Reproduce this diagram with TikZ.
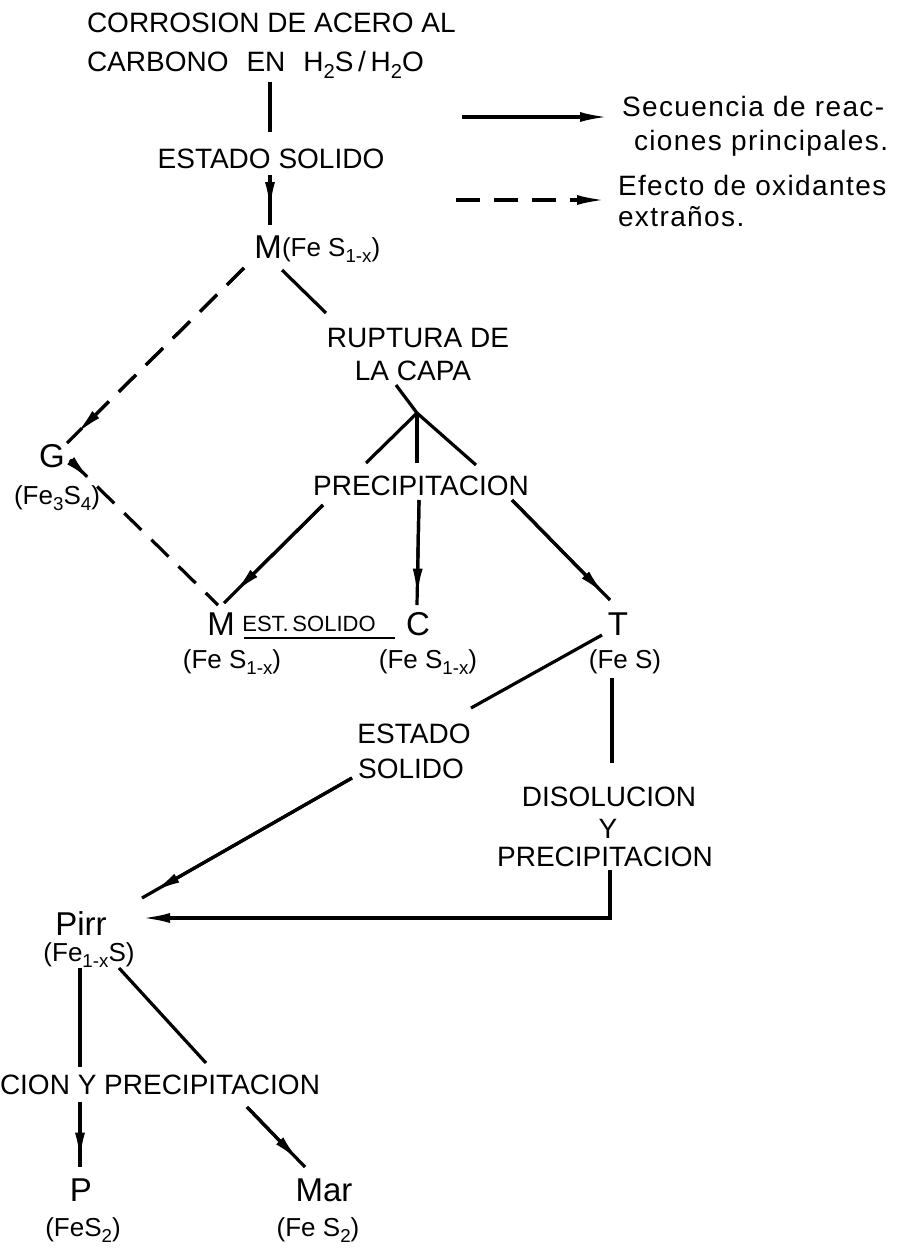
\documentclass[tikz,border=0pt]{standalone}
\usepackage{fontspec}
\setmainfont{Liberation Sans}
\usepackage{graphicx}
\usetikzlibrary{arrows.meta,calc}
\newcommand\dn[1]{\raisebox{-0.5ex}{\scalebox{0.72}{#1}}}
\newcommand\fA{\fontsize{28}{34}\selectfont}
\newcommand\fB{\fontsize{33}{38}\selectfont}
\newcommand\fC{\fontsize{26}{30}\selectfont}
\newcommand\fD{\fontsize{28}{34}\selectfont\addfontfeature{LetterSpace=5}}
\newcommand\fE{\fontsize{22}{26}\selectfont}
\newcommand\arrconn[4]{\draw[#1] (#2) -- (#3); \draw[#1,tip] (#2) -- ($(#2)!#4!(#3)$);}
\begin{document}
\begin{tikzpicture}[x=1pt,y=-1pt,
  every node/.style={inner sep=0pt,outer sep=0pt},
  lbl/.style={font=\fA},
  big/.style={font=\fB},
  frm/.style={font=\fC},
  leg/.style={font=\fD},
  ln/.style={line width=3.2pt},
  dsh/.style={ln,dash pattern=on 24pt off 14pt},
  tip/.style={-{Latex[length=28pt,width=10pt]}}]
\useasboundingbox[fill=white] (0,0) rectangle (904,1251);

% text nodes
\node[lbl,anchor=base west] (t1) at (87,32) {CORROSION DE ACERO AL};
\node[lbl,anchor=base west] (t2) at (87,71) {CARBONO\hspace{18pt}EN\hspace{18pt}H\dn{2}S\,/\,H\dn{2}O};
\node[lbl,anchor=base] (es1) at (271,168) {ESTADO SOLIDO};
\node[big,anchor=base] (m1) at (268,258) {M};
\node[frm,anchor=base west] (f1) at (282,256) {(Fe S\dn{1-x})};

\node[leg,anchor=base west] (leg1) at (622,116) {Secuencia de reac-};
\node[leg,anchor=base west] (leg1b) at (634,150) {ciones principales.};
\node[leg,anchor=base west] (leg2) at (618,195) {Efecto de oxidantes};
\node[leg,anchor=base west] (leg2b) at (618,226) {extraños.};

\node[lbl,anchor=base] (rup1) at (418,347) {RUPTURA DE};
\node[lbl,anchor=base] (rup2) at (413,380) {LA CAPA};
\node[lbl,anchor=base] (prec) at (421,495) {PRECIPITACION};

\node[big,anchor=base] (g) at (52,467) {G};
\node[frm,anchor=base] (fg) at (57,504) {(Fe\dn{3}S\dn{4})};

\node[big,anchor=base] (m2) at (221,635) {M};
\node[big,anchor=base] (c) at (418,635) {C};
\node[big,anchor=base] (tt) at (618,635) {T};
\node[font=\fE,anchor=base] (est) at (309,631) {EST.\,SOLIDO};
\node[frm,anchor=base] (f2) at (232,668) {(Fe S\dn{1-x})};
\node[frm,anchor=base] (f3) at (428,668) {(Fe S\dn{1-x})};
\node[frm,anchor=base] (f4) at (625,668) {(Fe S)};

\node[lbl,anchor=base] (es2a) at (414,743) {ESTADO};
\node[lbl,anchor=base] (es2b) at (411,778) {SOLIDO};
\node[lbl,anchor=base] (disa) at (609,806) {DISOLUCION};
\node[lbl,anchor=base] (disb) at (608,838) {Y};
\node[lbl,anchor=base] (disc) at (605,866) {PRECIPITACION};

\node[big,anchor=base] (pirr) at (81,935) {Pirr};
\node[frm,anchor=base] (f5) at (89,961) {(Fe\dn{1-x}S)};
\node[lbl,anchor=base west] (cion) at (0,1094) {CION Y PRECIPITACION};
\node[big,anchor=base] (p) at (81,1201) {P};
\node[big,anchor=base] (mar) at (324,1201) {Mar};
\node[frm,anchor=base] (f6) at (83,1236) {(FeS\dn{2})};
\node[frm,anchor=base] (f7) at (318,1236) {(Fe S\dn{2})};

% connector end points (relative to nodes)
\coordinate (a1) at ($(t2.base west)+(183,11)$);
\coordinate (a2) at ($(es1.base)+(-1,-36)$);
\coordinate (b1) at ($(es1.base)+(-1,7)$);
\coordinate (b2) at ($(m1.base)+(2,-33)$);
\coordinate (lg1s) at (462,117);
\coordinate (lg1e) at ($(leg1.base west)+(-14,1)$);
\coordinate (lg2s) at (456,200);
\coordinate (lg2e) at ($(leg2.base west)+(-13,5)$);
\coordinate (d1) at ($(m1.base)+(-24,10)$);
\coordinate (d2) at ($(g.base)+(15,-24)$);
\coordinate (r1) at ($(m1.base)+(14,12)$);
\coordinate (r2) at ($(rup1.base)+(-92,-34)$);
\coordinate (jn) at ($(rup2.base)+(4,33)$);
\coordinate (j0) at ($(rup2.base)+(-17,5)$);
\coordinate (pl) at ($(prec.base)+(-55,-32)$);
\coordinate (pc) at ($(prec.base)+(-4,-32)$);
\coordinate (pr) at ($(prec.base)+(55,-30)$);
\coordinate (q1) at ($(prec.base)+(-98,10)$);
\coordinate (q2) at ($(m2.base)+(3,-32)$);
\coordinate (q3) at ($(prec.base)+(-2,5)$);
\coordinate (q4) at ($(c.base)+(-1,-30)$);
\coordinate (q5) at ($(prec.base)+(91,5)$);
\coordinate (q6) at ($(tt.base)+(-8,-35)$);
\coordinate (h1) at ($(g.base)+(18,-7)$);
\coordinate (h2) at ($(m2.base)+(-3,-30)$);
\coordinate (u1) at ($(m2.base)+(23,3)$);
\coordinate (u2) at ($(c.base)+(-23,3)$);
\coordinate (s1) at ($(tt.base)+(-16,0)$);
\coordinate (s2) at ($(es2a.base)+(57,-35)$);
\coordinate (v1) at ($(f4.base)+(-13,10)$);
\coordinate (v2) at ($(disa.base)+(3,-43)$);
\coordinate (w1) at ($(es2b.base)+(-59,0)$);
\coordinate (w2) at ($(pirr.base)+(61,-37)$);
\coordinate (x1) at ($(disc.base)+(5,4)$);
\coordinate (x2) at ($(pirr.base)+(61,-17)$);
\coordinate (y1) at ($(f5.base)+(-9,7)$);
\coordinate (y2) at ($(cion.base west)+(80,-27)$);
\coordinate (y3) at ($(f5.base)+(30,7)$);
\coordinate (y4) at ($(cion.base west)+(206,-31)$);
\coordinate (z1) at ($(cion.base west)+(80,8)$);
\coordinate (z2) at ($(p.base)+(-1,-34)$);
\coordinate (z3) at ($(cion.base west)+(247,13)$);
\coordinate (z4) at ($(mar.base)+(-19,-34)$);

% connectors
\draw[ln] (a1) -- (a2);
\arrconn{ln}{b1}{b2}{0.7}
\draw[ln,tip] (lg1s) -- (lg1e);
\draw[dsh,tip] (lg2s) -- (lg2e);
\arrconn{dsh}{d1}{d2}{0.95}
\draw[ln] (r1) -- (r2);
\draw[ln] (j0) -- (jn);
\draw[ln] (jn) -- (pl);
\draw[ln] (jn) -- (pc);
\draw[ln] (jn) -- (pr);
\arrconn{ln}{q1}{q2}{0.9}
\arrconn{ln}{q3}{q4}{0.92}
\arrconn{ln}{q5}{q6}{0.95}
\arrconn{dsh}{h1}{h2}{0.14}
\draw[line width=2.4pt] (u1) -- (u2);
\draw[ln] (s1) -- (s2);
\draw[ln] (v1) -- (v2);
\arrconn{ln}{w1}{w2}{0.95}
\draw[ln,tip] (x1) |- (x2);
\draw[ln] (y1) -- (y2);
\draw[ln] (y3) -- (y4);
\arrconn{ln}{z1}{z2}{0.9}
\arrconn{ln}{z3}{z4}{0.9}
\end{tikzpicture}
\end{document}
